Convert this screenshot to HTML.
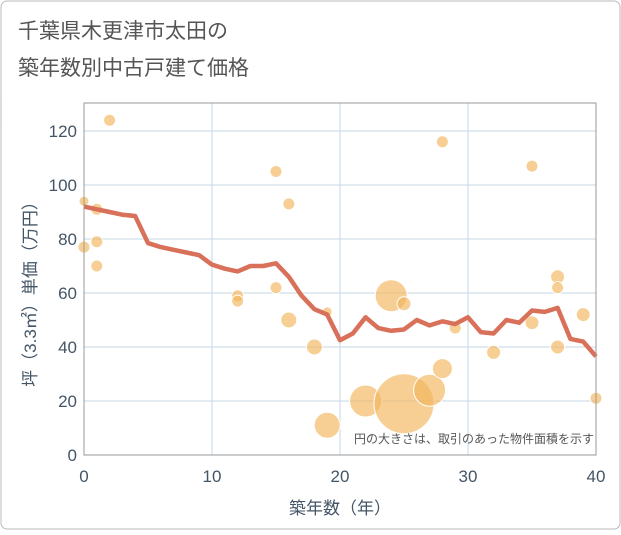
<!DOCTYPE html>
<html><head><meta charset="utf-8"><style>
body{margin:0;background:#fff;font-family:"Liberation Sans","Noto Sans CJK JP",sans-serif}
#wrap{position:relative;width:621px;height:530px}
</style></head><body>
<div id="wrap">
<svg id="chart" width="621" height="530">
<rect x="1" y="1" width="619" height="528" rx="6" fill="#fff" stroke="#bbb"/>
<text x="18" y="38" font-size="21" fill="#555">千葉県木更津市太田の</text>
<text x="18" y="75" font-size="21" fill="#555">築年数別中古戸建て価格</text>
<g id="grid"></g>
<g id="bubbles"></g>
<g id="line"></g>
<rect x="84" y="103" width="512" height="352" fill="none" stroke="#999"/>
<g id="ticks"></g>
<text x="340" y="514" font-size="17" fill="#456" text-anchor="middle">築年数（年）</text>
<text transform="translate(36,290) rotate(-90)" font-size="17" fill="#456" text-anchor="middle">坪（3.3㎡）単価（万円）</text>
<text x="594" y="443" font-size="12" fill="#555" text-anchor="end">円の大きさは、取引のあった物件面積を示す</text>
</svg></div>
<script>
const xTicks=[0,10,20,30,40];
const yTicks=[0,20,40,60,80,100,120];
const lineYears=[0,1,2,3,4,5,6,7,8,9,10,11,12,13,14,15,16,17,18,19,20,21,22,23,24,25,26,27,28,29,30,31,32,33,34,35,36,37,38,39,40];
const linePrices=[92,91,90,89,88.5,78.5,77,76,75,74,70.5,69,68,70,70,71,66,59,54,52,42.5,45,51,47,46,46.5,50,48,49.5,48.5,51,45.5,45,50,49,53.5,53,54.5,43,42,36.5];
const bubbleX=[0,0,1,1,1,2,12,12,15,15,16,16,18,19,19,22,24,25,25,27,28,28,29,32,35,35,37,37,37,39,40];
const bubbleY=[94,77,91,79,70,124,59,57,105,62,93,50,40,53,11,20,59,56,19,24,32,116,47,38,107,49,66,62,40,52,21];
const bubbleR=[5,6,6,6,6,6,6,6,6,6,6,8,8,5,13,16,16,7,30,16,10,6,6,7,6,7,7,6,7,7,6];
const X=v=>84+v*12.8, Y=v=>455-v*2.7;
const ns="http://www.w3.org/2000/svg";
function mk(t,p,a){const e=document.createElementNS(ns,t);for(const k in a)e.setAttribute(k,a[k]);p.appendChild(e);return e;}
const g=document.getElementById('grid'),tk=document.getElementById('ticks');
xTicks.forEach(v=>{const l=mk('line',g,{x1:X(v),x2:X(v),y1:103,y2:455,stroke:'#c5d5e5'});


const t=mk('text',tk,{x:X(v),y:482,'font-size':17,fill:'#456','text-anchor':'middle'});t.textContent=v;

});
yTicks.forEach(v=>{const l=mk('line',g,{x1:84,x2:596,y1:Y(v),y2:Y(v),stroke:'#c5d5e5'});


const t=mk('text',tk,{x:77,y:Y(v)+6,'font-size':17,fill:'#456','text-anchor':'end'});t.textContent=v;

});
const bg=document.getElementById('bubbles');
bubbleX.forEach((x,i)=>{const c=mk('circle',bg,{cx:X(x),cy:Y(bubbleY[i]),r:bubbleR[i],fill:'#f2b65a','fill-opacity':0.65,stroke:'#fff','stroke-width':1});

});
const pl=mk('polyline',document.getElementById('line'),{points:lineYears.map((x,i)=>X(x)+','+Y(linePrices[i])).join(' '),fill:'none',stroke:'#d9705a','stroke-width':4.5,'stroke-linejoin':'round'});


</script>
</body></html>
